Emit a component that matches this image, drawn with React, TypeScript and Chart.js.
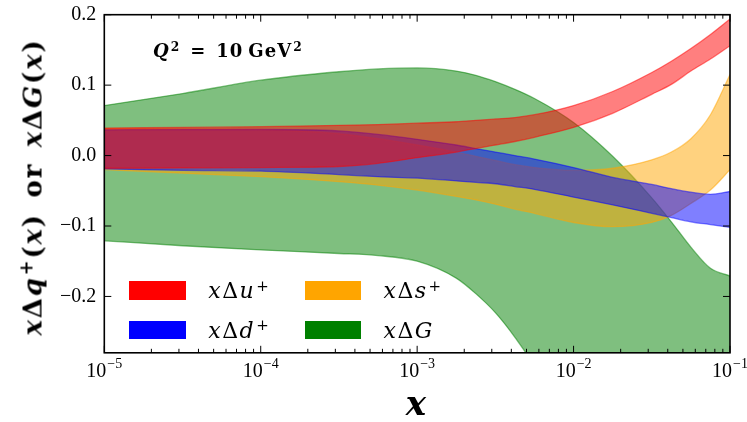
import React, { useEffect, useRef } from 'react';
import { Chart, registerables } from 'chart.js';

Chart.register(...registerables);

// x grid (momentum fraction), shared by all bands
const xGrid = [1e-5, 3.162e-5, 1e-4, 3.162e-4, 5.623e-4, 1e-3, 1.778e-3, 2.371e-3, 3.162e-3, 4.217e-3, 5.623e-3, 1e-2, 1.778e-2, 3.162e-2, 4.217e-2, 5.623e-2, 7.499e-2, 1e-1];

// x Δu+ band
const uUpper = [0.039, 0.040, 0.041, 0.043, 0.044, 0.046, 0.048, 0.050, 0.052, 0.054, 0.058, 0.071, 0.091, 0.118, 0.134, 0.152, 0.172, 0.194];
const uLower = [-0.018, -0.0175, -0.017, -0.0155, -0.011, -0.003, 0.005, 0.010, 0.015, 0.020, 0.026, 0.040, 0.060, 0.087, 0.101, 0.120, 0.137, 0.156];

// x Δd+ band
const dUpper = [0.0365, 0.037, 0.037, 0.035, 0.030, 0.023, 0.015, 0.010, 0.005, 0.000, -0.005, -0.017, -0.031, -0.041, -0.047, -0.052, -0.055, -0.051];
const dLower = [-0.019, -0.021, -0.022, -0.027, -0.030, -0.032, -0.036, -0.038, -0.040, -0.044, -0.048, -0.059, -0.070, -0.082, -0.088, -0.094, -0.098, -0.102];

// x Δs+ band
const sUpper = [0.038, 0.038, 0.037, 0.031, 0.024, 0.015, 0.005, -0.001, -0.007, -0.013, -0.017, -0.021, -0.018, -0.006, 0.005, 0.024, 0.058, 0.115];
const sLower = [-0.020, -0.025, -0.030, -0.037, -0.042, -0.049, -0.058, -0.063, -0.069, -0.076, -0.082, -0.095, -0.101, -0.095, -0.085, -0.068, -0.049, -0.020];

// x ΔG band
const gUpper = [0.071, 0.088, 0.107, 0.119, 0.123, 0.1245, 0.120, 0.114, 0.105, 0.094, 0.081, 0.047, -0.001, -0.060, -0.094, -0.130, -0.160, -0.171];
const gLower = [-0.121, -0.128, -0.134, -0.139, -0.142, -0.150, -0.174, -0.196, -0.223, -0.258, -0.30, -0.42, -0.5, -0.55, -0.57, -0.6, -0.62, -0.64];

// axes
const yTicks = [-0.2, -0.1, 0.0, 0.1, 0.2];
const xMajor = [1e-5, 1e-4, 1e-3, 1e-2, 1e-1];
const xMajorExp = ['−5', '−4', '−3', '−2', '−1'];
const xMin = 1e-5;
const xMax = 1e-1;
const yMin = -0.28;
const yMax = 0.2;

const bandColors: Record<string, string> = {
  u: '255,0,0',
  d: '0,0,255',
  s: '255,165,0',
  g: '0,128,0',
};

function pts(vals: number[]) {
  return vals.map((v, i) => ({ x: xGrid[i], y: v }));
}

function band(key: string, name: string, up: number[], lo: number[]) {
  const c = bandColors[key];
  const common = {
    borderColor: `rgba(${c},0.5)`,
    backgroundColor: `rgba(${c},0.5)`,
    borderWidth: 1.3,
    pointRadius: 0,
    pointHoverRadius: 0,
    tension: 0.4,
    cubicInterpolationMode: 'monotone' as const,
    clip: 0,
  };
  return [
    { ...common, label: name + ' upper', data: pts(up), fill: false },
    { ...common, label: name + ' lower', data: pts(lo), fill: '-1' },
  ];
}

const framePlugin = {
  id: 'frameTicks',
  afterDraw(chart: any) {
    const { ctx, chartArea: a } = chart;
    const xs = chart.scales.x;
    const ys = chart.scales.y;
    ctx.save();
    ctx.strokeStyle = '#000';
    ctx.lineWidth = 1;
    const majLen = 7;
    const minLen = 4;
    ctx.beginPath();
    xMajor.forEach((v, i) => {
      const px = xs.getPixelForValue(v);
      ctx.moveTo(px, a.bottom);
      ctx.lineTo(px, a.bottom - majLen);
      ctx.moveTo(px, a.top);
      ctx.lineTo(px, a.top + majLen);
      if (i < xMajor.length - 1) {
        for (let m = 2; m <= 9; m++) {
          const pm = xs.getPixelForValue(v * m);
          ctx.moveTo(pm, a.bottom);
          ctx.lineTo(pm, a.bottom - minLen);
          ctx.moveTo(pm, a.top);
          ctx.lineTo(pm, a.top + minLen);
        }
      }
    });
    yTicks.forEach((v) => {
      const py = ys.getPixelForValue(v);
      ctx.moveTo(a.left, py);
      ctx.lineTo(a.left + majLen, py);
      ctx.moveTo(a.right, py);
      ctx.lineTo(a.right - majLen, py);
    });
    ctx.stroke();
    ctx.lineWidth = 1.6;
    ctx.strokeRect(a.left, a.top, a.right - a.left, a.bottom - a.top);
    ctx.fillStyle = '#000';
    ctx.textBaseline = 'alphabetic';
    ctx.textAlign = 'left';
    const baseFont = '20px "Liberation Serif"';
    const expFont = '14px "Liberation Serif"';
    xMajor.forEach((v, i) => {
      const px = xs.getPixelForValue(v);
      ctx.font = baseFont;
      const w10 = ctx.measureText('10').width;
      ctx.font = expFont;
      const wExp = ctx.measureText(xMajorExp[i]).width;
      const start = px - (w10 + 1 + wExp) / 2;
      ctx.font = baseFont;
      ctx.fillText('10', start, a.bottom + 24.5);
      ctx.font = expFont;
      ctx.fillText(xMajorExp[i], start + w10 + 1, a.bottom + 15.5);
    });
    ctx.restore();
  },
};

export default function App() {
  const canvasRef = useRef<HTMLCanvasElement | null>(null);

  useEffect(() => {
    if (!canvasRef.current) return;
    const chart = new Chart(canvasRef.current, {
      type: 'line',
      data: {
        datasets: [
          ...band('u', 'xΔu+', uUpper, uLower),
          ...band('d', 'xΔd+', dUpper, dLower),
          ...band('s', 'xΔs+', sUpper, sLower),
          ...band('g', 'xΔG', gUpper, gLower),
        ] as any,
      },
      options: {
        animation: false,
        responsive: false,
        events: [],
        layout: { padding: { top: 14.7, right: 17, bottom: 0, left: 0 } },
        plugins: {
          legend: { display: false },
          tooltip: { enabled: false },
          title: { display: false },
        },
        scales: {
          x: {
            type: 'logarithmic',
            min: xMin,
            max: xMax,
            grid: { display: false, drawTicks: false },
            border: { display: false },
            ticks: { display: false },
            afterFit: (s: any) => {
              s.height = 422 - 352.8;
              s.paddingLeft = 0;
              s.paddingRight = 0;
            },
          },
          y: {
            type: 'linear',
            min: yMin,
            max: yMax,
            grid: { display: false, drawTicks: false },
            border: { display: false },
            afterBuildTicks: (s: any) => {
              s.ticks = yTicks.map((v) => ({ value: v }));
            },
            ticks: {
              padding: 8,
              color: '#000',
              font: { family: '"Liberation Serif"', size: 20 },
              callback: (v: any) => {
                const n = Number(v);
                if (Math.abs(n) < 1e-9) return '0.0';
                return (n < 0 ? '−' : '') + Math.abs(n).toFixed(1);
              },
            },
            afterFit: (s: any) => {
              s.width = 104.3;
              s.paddingTop = 0;
              s.paddingBottom = 0;
            },
          },
        },
      },
      plugins: [framePlugin],
    });
    return () => chart.destroy();
  }, []);

  const mathFont = '"DejaVu Serif", serif';
  const sup = (t: string) => (
    <span style={{ fontSize: '0.68em', position: 'relative', top: '-0.5em', marginLeft: '1px' }}>{t}</span>
  );
  const legendItem = (color: string, left: number, top: number, label: React.ReactNode) => (
    <>
      <div style={{ position: 'absolute', left, top, width: 56.5, height: 18.5, background: color }} />
      <div
        style={{
          position: 'absolute',
          left: left + 79,
          top: top - 0.6,
          fontFamily: mathFont,
          fontSize: 22,
          lineHeight: '22px',
          letterSpacing: '1.5px',
          whiteSpace: 'nowrap',
          color: '#000',
        }}
      >
        {label}
      </div>
    </>
  );

  return (
    <div style={{ position: 'absolute', left: 0, top: 0, width: 747, height: 422, overflow: 'hidden', background: '#fff' }}>
      <canvas ref={canvasRef} width={747} height={422} style={{ position: 'absolute', left: 0, top: 0 }} />
      <div
        style={{
          position: 'absolute',
          left: 153,
          top: 41.8,
          fontFamily: mathFont,
          fontWeight: 'bold',
          fontSize: 18,
          lineHeight: '18px',
          letterSpacing: '1px',
          whiteSpace: 'nowrap',
          color: '#000',
        }}
      >
        <i>Q</i>
        {sup('2')}
        <span style={{ margin: '0 10px' }}>=</span>10<span style={{ marginLeft: 5 }}>GeV</span>
        {sup('2')}
      </div>
      {legendItem('#ff0000', 129.3, 281, <><i>x</i>Δ<i>u</i>{sup('+')}</>)}
      {legendItem('#0000ff', 129.3, 320.5, <><i>x</i>Δ<i>d</i>{sup('+')}</>)}
      {legendItem('#ffa500', 304.5, 281, <><i>x</i>Δ<i>s</i>{sup('+')}</>)}
      {legendItem('#008000', 304.5, 320.5, <><i>x</i>Δ<i>G</i></>)}
      <div
        style={{
          position: 'absolute',
          left: 34,
          top: 187,
          transform: 'translate(-50%, -50%) rotate(-90deg)',
          fontFamily: mathFont,
          fontWeight: 'bold',
          fontSize: 26,
          lineHeight: '26px',
          letterSpacing: '1.8px',
          whiteSpace: 'nowrap',
          color: '#000',
        }}
      >
        <i>x</i>Δ<i>q</i>
        {sup('+')}(<i>x</i>)<span style={{ margin: '0 0.6em' }}>or</span>
        <i>x</i>Δ<i>G</i>(<i>x</i>)
      </div>
      <div
        style={{
          position: 'absolute',
          left: 416,
          top: 386,
          transform: 'translateX(-50%)',
          fontFamily: mathFont,
          fontWeight: 'bold',
          fontStyle: 'italic',
          fontSize: 34,
          lineHeight: '34px',
          color: '#000',
        }}
      >
        x
      </div>
    </div>
  );
}
